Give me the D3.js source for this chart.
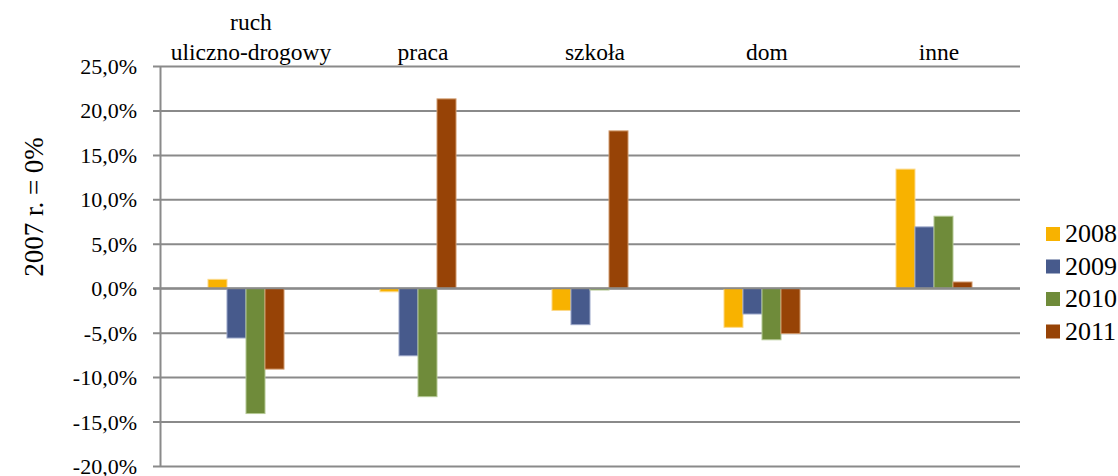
<!DOCTYPE html>
<html><head><meta charset="utf-8">
<script src="https://cdn.jsdelivr.net/npm/d3@7"></script>
<style>
html,body{margin:0;padding:0;background:#fff;}
svg{display:block;}
svg text{font-family:"Liberation Serif","DejaVu Serif",serif !important;fill:#000;}
</style></head>
<body>
<script>
const categories = [["ruch","uliczno-drogowy"],["praca"],["szkoła"],["dom"],["inne"]];
const years = ["2008","2009","2010","2011"];
const v2008 = [1.0, -0.4, -2.5, -4.4, 13.4];
const v2009 = [-5.6, -7.6, -4.1, -2.9, 6.9];
const v2010 = [-14.1, -12.2, -0.2, -5.8, 8.1];
const v2011 = [-9.1, 21.3, 17.7, -5.1, 0.7];
const yTicks = [25, 20, 15, 10, 5, 0, -5, -10, -15, -20];
const colors = ["#F8B200", "#475A8C", "#6F8B3A", "#974306"];
const strokes = ["#FCD98A", "#9AA6C8", "#B4C894", "#D09A6E"];
const yTitle = "2007 r. = 0%";

const series = [v2008, v2009, v2010, v2011];
const W = 1118, H = 476;
const L = 160, R = 1020, T = 66, B = 466;
const SERIF = '"Liberation Serif", "DejaVu Serif", serif';

const svg = d3.select("body").append("svg").attr("width", W).attr("height", H)
  .style("font-family", SERIF);

const y = d3.scaleLinear().domain([-20, 25]).range([B, T]);
const x0 = d3.scaleBand().domain(d3.range(categories.length)).range([L, R]).paddingInner(0.558).paddingOuter(0.279);
const x1 = d3.scaleBand().domain(years).range([0, x0.bandwidth()]).padding(0);

const fmt = v => d3.format(".1f")(v).replace(".", ",").replace("−", "-") + "%";

// gridlines + tick marks
const yAxis = d3.axisLeft(y).tickValues(yTicks).tickSize(-(R - L)).tickFormat(fmt).tickPadding(23);
const ga = svg.append("g").attr("transform", `translate(${L},0)`).call(yAxis)
  .attr("font-family", SERIF).attr("font-size", 22);
ga.select(".domain").remove();
ga.selectAll(".tick line").attr("x1", -7).attr("stroke", "#8a8a8a").attr("stroke-width", 2);
ga.selectAll(".tick text").style("font-family", SERIF).attr("font-size", 22).attr("fill", "#000").attr("dy", "0.34em");

// vertical axis line
svg.append("line").attr("x1", L + 0.5).attr("x2", L + 0.5).attr("y1", T).attr("y2", B)
  .attr("stroke", "#8a8a8a").attr("stroke-width", 2);

// bars
const groups = svg.append("g").selectAll("g").data(categories).join("g")
  .attr("transform", (d, i) => `translate(${x0(i)},0)`);
groups.selectAll("rect").data((d, i) => series.map((s, k) => ({v: s[i], k}))).join("rect")
  .attr("x", d => x1(years[d.k]))
  .attr("width", x1.bandwidth())
  .attr("y", d => y(Math.max(0, d.v)))
  .attr("height", d => Math.abs(y(d.v) - y(0)))
  .attr("fill", d => colors[d.k])
  .attr("stroke", d => strokes[d.k])
  .attr("stroke-width", 1);

// zero line on top
svg.append("line").attr("x1", L - 7).attr("x2", R).attr("y1", y(0)).attr("y2", y(0))
  .attr("stroke", "#8a8a8a").attr("stroke-width", 2);

// category labels at top
const lab = svg.append("g").selectAll("text").data(categories).join("text")
  .attr("text-anchor", "middle").attr("font-size", 23.5).style("font-family", SERIF)
  .attr("x", (d, i) => x0(i) + x0.bandwidth() / 2 + 5)
  .attr("y", 60);
lab.each(function(d) {
  const t = d3.select(this);
  d.forEach((line, j) => {
    t.append("tspan").attr("x", t.attr("x")).attr("dy", j === 0 ? -(d.length - 1) * 30 : 30).text(line);
  });
});

// y title
svg.append("text").attr("transform", "translate(43,207) rotate(-90)")
  .attr("text-anchor", "middle").attr("font-size", 27).style("font-family", SERIF).text(yTitle);

// legend
const lg = svg.append("g").selectAll("g").data(years).join("g")
  .attr("transform", (d, i) => `translate(1046,${227 + i * 32.5})`);
lg.append("rect").attr("width", 14).attr("height", 14).attr("fill", (d, i) => colors[i]);
lg.append("text").attr("x", 19).attr("y", 15).attr("font-size", 26).style("font-family", SERIF).text(d => d);
</script>
</body></html>
